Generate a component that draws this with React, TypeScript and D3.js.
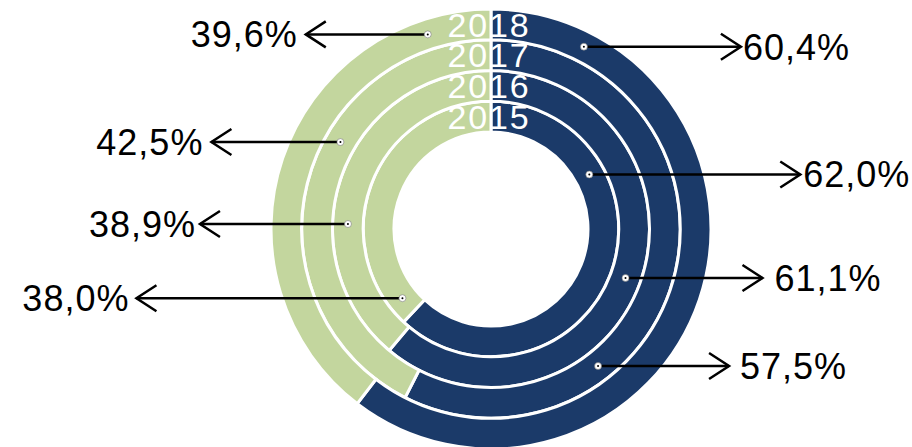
import React from "react";
import * as d3 from "d3";

// ---- data ----
const years = ["2015", "2016", "2017", "2018"];
const navyValues = [62.0, 61.1, 57.5, 60.4];
const greenValues = [38.0, 38.9, 42.5, 39.6];
// label layout: angle (deg, clockwise from top) of the dot on each ring, and arrow length
const navyLabelAngles = [61, 110, 142, 27];
const navyArrowLengths = [211, 137, 131, 157];
const navyTextGaps = [3, 12, 11, 2];
const greenLabelAngles = [232, 272, 300, 342];
const greenArrowLengths = [266, 148, 129, 122];
const greenTextGaps = [7, 4, 8, 8];

const W = 912;
const H = 447;
const cx = 491;
const cy = 229;
const innerR = 97;
const outerR = 220;
const NAVY = "#1b3a69";
const GREEN = "#c3d69e";
const FONT = "'Liberation Sans', Arial, Helvetica, sans-serif";

const fmt = (v: number) => v.toFixed(1).replace(".", ",") + "%";

export default function App() {
  const band = d3
    .scaleBand<string>()
    .domain(years)
    .range([innerR, outerR])
    .paddingInner(0)
    .paddingOuter(0);
  const angle = d3.scaleLinear().domain([0, 100]).range([0, 2 * Math.PI]);
  const arc = d3.arc<any>();

  const rings = years.map((y, i) => {
    const r0 = band(y)!;
    const r1 = r0 + band.bandwidth();
    const navyEnd = angle(navyValues[i]);
    return {
      year: y,
      r0,
      r1,
      rm: (r0 + r1) / 2,
      navyPath: arc({ innerRadius: r0, outerRadius: r1, startAngle: 0, endAngle: navyEnd })!,
      greenPath: arc({ innerRadius: r0, outerRadius: r1, startAngle: navyEnd, endAngle: 2 * Math.PI })!,
    };
  });

  const pt = (deg: number, r: number) => {
    const a = (deg * Math.PI) / 180;
    return [cx + r * Math.sin(a), cy - r * Math.cos(a)];
  };

  const labels: any[] = [];
  rings.forEach((rg, i) => {
    const [nx, ny] = pt(navyLabelAngles[i], rg.rm);
    labels.push({ x: nx, y: ny, tip: nx + navyArrowLengths[i], dir: 1, gap: navyTextGaps[i], text: fmt(navyValues[i]) });
    const [gx, gy] = pt(greenLabelAngles[i], rg.rm);
    labels.push({ x: gx, y: gy, tip: gx - greenArrowLengths[i], dir: -1, gap: greenTextGaps[i], text: fmt(greenValues[i]) });
  });

  return (
    <svg
      width={W}
      height={H}
      viewBox={`0 0 ${W} ${H}`}
      style={{ position: "absolute", left: 0, top: 0, display: "block", background: "#fff" }}
    >
      <g transform={`translate(${cx},${cy})`}>
        {rings.map((rg) => (
          <g key={rg.year}>
            <path d={rg.navyPath} fill={NAVY} stroke="#fff" strokeWidth={3} />
            <path d={rg.greenPath} fill={GREEN} stroke="#fff" strokeWidth={3} />
          </g>
        ))}
        {rings.map((rg) => (
          <text
            key={"y" + rg.year}
            x={-2}
            y={-rg.rm}
            dy="0.36em"
            textAnchor="middle"
            fill="#fff"
            fontFamily={FONT}
            fontSize={34}
            letterSpacing={1.8}
          >
            {rg.year}
          </text>
        ))}
      </g>
      {labels.map((l, i) => (
        <g key={"l" + i}>
          <line x1={l.x} y1={l.y} x2={l.tip} y2={l.y} stroke="#000" strokeWidth={2.5} />
          <polyline
            points={`${l.tip - l.dir * 20},${l.y - 13} ${l.tip},${l.y} ${l.tip - l.dir * 20},${l.y + 13}`}
            fill="none"
            stroke="#000"
            strokeWidth={2.5}
          />
          <circle cx={l.x} cy={l.y} r={3.5} fill="#fff" stroke="#777" strokeWidth={0.6} />
          <circle cx={l.x} cy={l.y} r={1} fill="#000" />
          <text
            x={l.tip + l.dir * l.gap}
            y={l.y}
            dy="0.36em"
            textAnchor={l.dir > 0 ? "start" : "end"}
            fill="#000"
            fontFamily={FONT}
            fontSize={36}
            letterSpacing={1}
          >
            {l.text}
          </text>
        </g>
      ))}
    </svg>
  );
}
